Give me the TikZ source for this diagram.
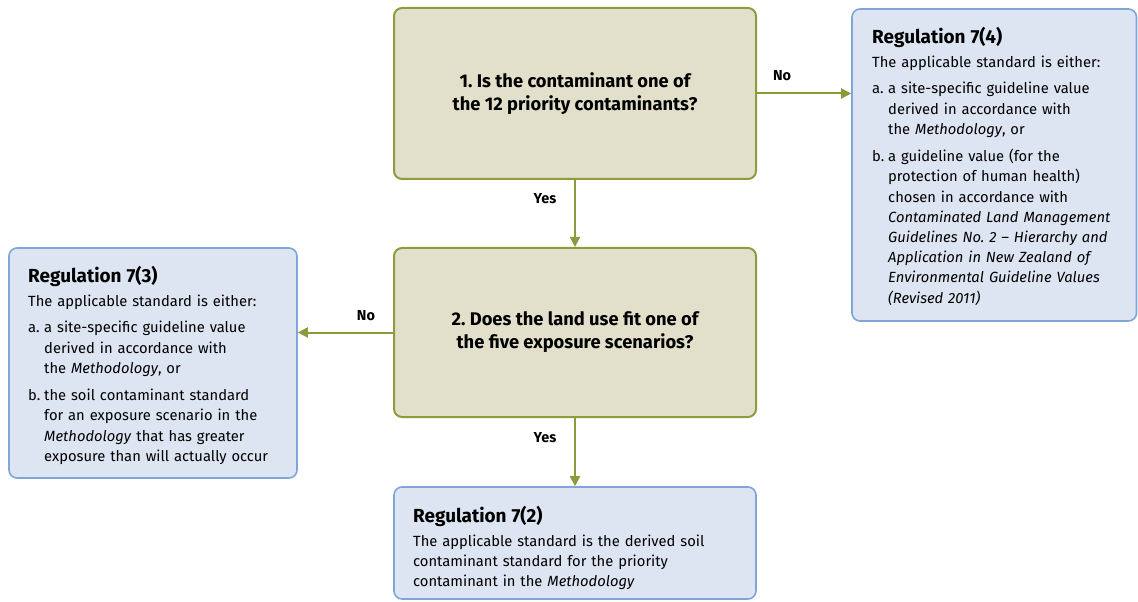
\documentclass[tikz,border=0pt]{standalone}
\usepackage{fontspec}
\setmainfont{Fira Sans}
\usetikzlibrary{arrows.meta}
\definecolor{qfill}{HTML}{E2E0CA}
\definecolor{qline}{HTML}{8D9D3E}
\definecolor{rfill}{HTML}{DDE5F2}
\definecolor{rline}{HTML}{7EA6D9}
\definecolor{flow}{HTML}{8A9B3B}
\frenchspacing
\newlength{\itemind}
\setlength{\itemind}{16bp}
% lettered list entry: label in a fixed-width box, lines stacked beside it
\newcommand{\regitem}[2]{\par\noindent\makebox[\itemind][l]{#1}\begin{tabular}[t]{@{}l@{}}#2\end{tabular}\par}
\newcommand{\reghead}[1]{\setlength{\parindent}{0pt}\setlength{\parskip}{0pt}{\fontsize{19}{23}\selectfont\bfseries #1\par}\vspace{3.5bp}}
\begin{document}
\begin{tikzpicture}[x=1bp,y=-1bp,
  qbox/.style={draw=qline, fill=qfill, line width=2bp, rounded corners=8bp,
    minimum width=362bp, minimum height=171bp, align=center,
    font=\fontsize{18.4}{23}\selectfont\bfseries},
  rbox/.style={draw=rline, fill=rfill, line width=1.6bp, rounded corners=8bp},
  rtext/.style={anchor=north west, inner sep=0pt, align=left,
    font=\fontsize{14.8}{20.3}\selectfont},
  flowline/.style={draw=flow, line width=2bp, -{Triangle[length=10bp,width=10bp]}},
  lab/.style={font=\fontsize{14.5}{16}\selectfont\bfseries, inner sep=0pt}]
\useasboundingbox (0,0) rectangle (1138,602);

% decision boxes
\node[qbox] (q1) at (575,93.5) {1. Is the contaminant one of\\the 12 priority contaminants?};
\node[qbox, minimum height=169bp] (q2) at (575,332.5) {2. Does the land use fit one of\\the five exposure scenarios?};

% regulation boxes
\node[rbox, minimum width=284.5bp, minimum height=312bp] (r74) at (994.25,165) {};
\node[rbox, minimum width=288bp, minimum height=230bp] (r73) at (153,363) {};
\node[rbox, minimum width=362bp, minimum height=112bp] (r72) at (575,543) {};

\node[rtext, text width=262bp] (t74) at (872,27) {%
  \reghead{Regulation 7(4)}
  The applicable standard is either:\par\vspace{6.5bp}
  \regitem{a.}{a site-specific guideline value\\derived in accordance with\\the \textit{Methodology}, or}
  \vspace{6bp}
  \regitem{b.}{a guideline value (for the\\protection of human health)\\chosen in accordance with\\\textit{Contaminated Land Management}\\\textit{Guidelines No. 2 -- Hierarchy and}\\\textit{Application in New Zealand of}\\\textit{Environmental Guideline Values}\\\textit{(Revised 2011)}}};

\node[rtext, text width=262bp] (t73) at (28,266) {%
  \reghead{Regulation 7(3)}
  The applicable standard is either:\par\vspace{6.5bp}
  \regitem{a.}{a site-specific guideline value\\derived in accordance with\\the \textit{Methodology}, or}
  \vspace{6bp}
  \regitem{b.}{the soil contaminant standard\\for an exposure scenario in the\\\textit{Methodology} that has greater\\exposure than will actually occur}};

\node[rtext, text width=340bp] (t72) at (413,506) {%
  \reghead{Regulation 7(2)}
  The applicable standard is the derived soil\\contaminant standard for the priority\\contaminant in the \textit{Methodology}};

% connectors
\draw[flowline] (q1.east) -- (r74.west |- q1.east);
\draw[flowline] (q1.south) -- (q2.north);
\draw[flowline] (q2.west) -- (r73.east |- q2.west);
\draw[flowline] (q2.south) -- (r72.north);

% branch labels
\node[lab] (no1) at (782,76) {No};
\node[lab] (yes1) at (545,199) {Yes};
\node[lab] (no2) at (366,316) {No};
\node[lab] (yes2) at (545,438) {Yes};
\end{tikzpicture}
\end{document}
